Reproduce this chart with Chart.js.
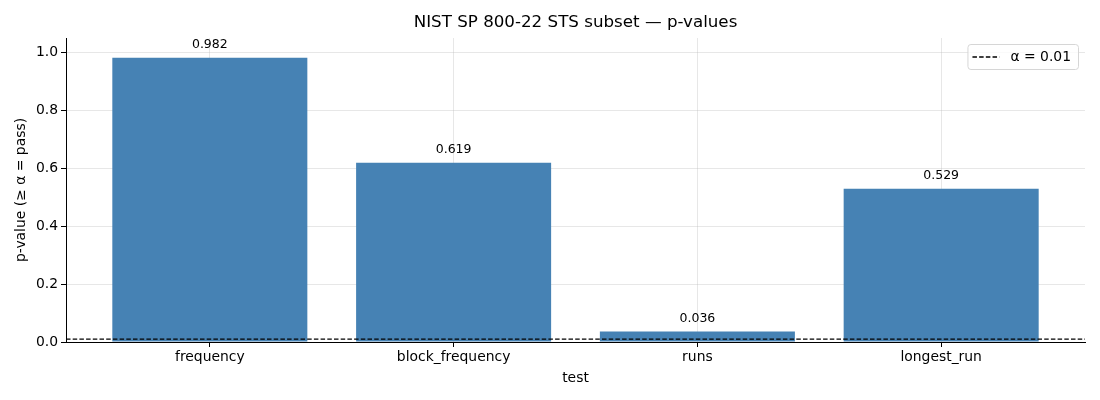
<!DOCTYPE html>
<html>
<head>
<meta charset="utf-8">
<script src="https://cdn.jsdelivr.net/npm/chart.js@4.4.1/dist/chart.umd.min.js"></script>
<style>
  html, body { margin: 0; padding: 0; background: #fff; }
  #wrap { width: 1100px; height: 400px; }
</style>
</head>
<body>
<div id="wrap"><canvas id="chart"></canvas></div>
<script>
const tests = ['frequency', 'block_frequency', 'runs', 'longest_run'];
const pValues = [0.982, 0.619, 0.036, 0.529];
const yTicks = [0, 0.2, 0.4, 0.6, 0.8, 1.0];
const alpha = 0.01;

const FONT = "'DejaVu Sans', sans-serif";
const X_MIN = -0.59, X_MAX = tests.length - 1 + 0.59;
const Y_MAX = 1.05;
const DASH = [4.5, 2.2];

// title, value labels and framed legend, drawn like matplotlib does
const extras = {
	id: 'extras',
	afterDatasetsDraw(chart) {
		const { ctx, chartArea, scales } = chart;
		ctx.save();
		ctx.fillStyle = '#000';
		ctx.font = '12.5px ' + FONT;
		ctx.textAlign = 'center';
		ctx.textBaseline = 'bottom';
		pValues.forEach((v, i) => {
			ctx.fillText(v.toFixed(3), scales.x.getPixelForValue(i), scales.y.getPixelForValue(v) - 7);
		});

		ctx.font = '16.7px ' + FONT;
		ctx.textBaseline = 'middle';
		ctx.fillText('NIST SP 800-22 STS subset — p-values', (chartArea.left + chartArea.right) / 2, 23);

		// legend
		const label = 'α = ' + alpha;
		ctx.font = '13.9px ' + FONT;
		const tw = ctx.measureText(label).width;
		const w = 43 + tw + 7, h = 25;
		const x0 = chartArea.right - 7 - w, y0 = chartArea.top + 6;
		ctx.beginPath();
		ctx.roundRect(x0 + 0.5, y0 + 0.5, w, h, 3);
		ctx.fillStyle = 'rgba(255,255,255,0.8)';
		ctx.fill();
		ctx.strokeStyle = '#d6d6d6';
		ctx.lineWidth = 1;
		ctx.stroke();
		ctx.beginPath();
		ctx.setLineDash(DASH);
		ctx.strokeStyle = '#000';
		ctx.lineWidth = 1.4;
		ctx.moveTo(x0 + 5, y0 + h / 2 + 0.5);
		ctx.lineTo(x0 + 32, y0 + h / 2 + 0.5);
		ctx.stroke();
		ctx.setLineDash([]);
		ctx.fillStyle = '#000';
		ctx.textAlign = 'left';
		ctx.fillText(label, x0 + 43, y0 + h / 2 + 1);
		ctx.restore();
	}
};

new Chart(document.getElementById('chart'), {
	data: {
		datasets: [
			{
				type: 'line',
				label: 'α = ' + alpha,
				data: [{ x: X_MIN, y: alpha }, { x: X_MAX, y: alpha }],
				borderColor: '#000',
				borderWidth: 1.3,
				borderDash: DASH,
				pointRadius: 0,
				order: 0,
			},
			{
				type: 'bar',
				label: 'p-value',
				data: pValues.map((v, i) => ({ x: i, y: v })),
				backgroundColor: '#4682b4',
				barPercentage: 0.8,
				categoryPercentage: 1.0,
				order: 1,
			},
		],
	},
	options: {
		responsive: true,
		maintainAspectRatio: false,
		animation: false,
		layout: { padding: { top: 38, right: 15, left: 0, bottom: 0 } },
		plugins: {
			legend: { display: false },
			tooltip: { enabled: false },
		},
		scales: {
			x: {
				type: 'linear',
				min: X_MIN,
				max: X_MAX,
				offset: false,
				z: 1,
				afterBuildTicks: (scale) => { scale.ticks = tests.map((_, i) => ({ value: i })); },
				afterFit: (scale) => { scale.height = 58; },
				ticks: {
					callback: (v) => tests[v],
					color: '#000',
					font: { family: FONT, size: 13.9 },
					padding: 2,
					maxRotation: 0,
					autoSkip: false,
				},
				grid: {
					offset: false,
					color: 'rgba(176,176,176,0.3)',
					tickColor: '#000',
					tickLength: 5,
				},
				border: { color: '#000', width: 1 },
				title: {
					display: true,
					text: 'test',
					color: '#000',
					font: { family: FONT, size: 13.9 },
					padding: { top: 2, bottom: 13 },
				},
			},
			y: {
				min: 0,
				max: Y_MAX,
				z: 1,
				afterBuildTicks: (scale) => { scale.ticks = yTicks.map((v) => ({ value: v })); },
				afterFit: (scale) => { scale.width = 66; },
				ticks: {
					callback: (v) => v.toFixed(1),
					color: '#000',
					font: { family: FONT, size: 13.9 },
					padding: 3,
				},
				grid: {
					color: 'rgba(176,176,176,0.3)',
					tickColor: '#000',
					tickLength: 5,
				},
				border: { color: '#000', width: 1 },
				title: {
					display: true,
					text: 'p-value (≥ α = pass)',
					color: '#000',
					font: { family: FONT, size: 13.9 },
					padding: { top: 13, bottom: 4 },
				},
			},
		},
	},
	plugins: [extras],
});
</script>
</body>
</html>
